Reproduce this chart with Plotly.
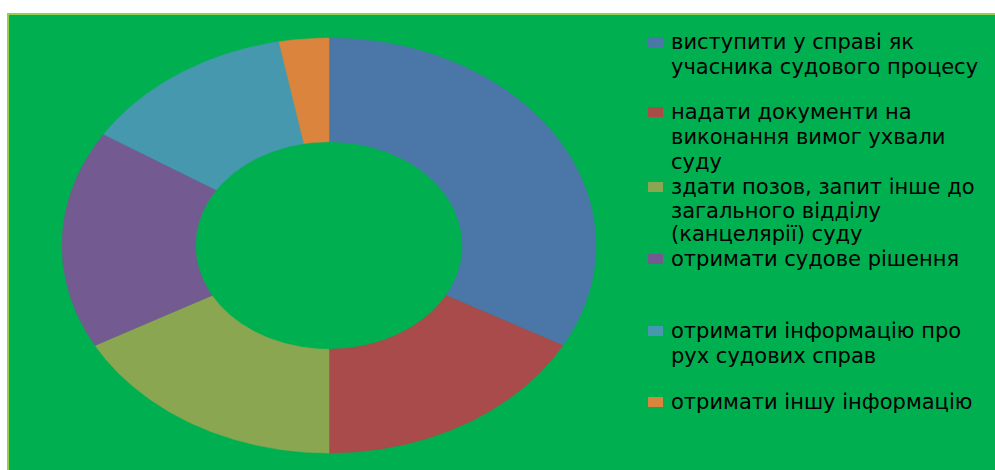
import numpy as np
import plotly.graph_objects as go

categories = [
    "виступити у справі як<br>учасника судового процесу",
    "надати документи на<br>виконання вимог ухвали<br>суду",
    "здати позов, запит інше до<br>загального відділу<br>(канцелярії) суду",
    "отримати судове рішення",
    "отримати інформацію про<br>рух судових справ",
    "отримати іншу інформацію",
]
values = [33, 17, 17, 17, 13, 3]
colors = ["#4A76A8", "#A84B4A", "#8AA650", "#735A91", "#4698AE", "#DB843D"]

# layout constants (pixel space)
CX, CY, RX, RY, HOLE = 329, 245.5, 267, 207.5, 0.5
legend_first_y = [42, 112, 187, 259, 331, 402]
legend_line_h = [25, 25, 23.5, 25, 25, 25]

fig = go.Figure()

total = sum(values)
start = 0.0
for name, v, c in zip(categories, values, colors):
    t0 = start / total * 2 * np.pi
    t1 = (start + v) / total * 2 * np.pi
    start += v
    t = np.linspace(t0, t1, 120)
    xo = CX + RX * np.sin(t)
    yo = CY - RY * np.cos(t)
    xi = CX + HOLE * RX * np.sin(t[::-1])
    yi = CY - HOLE * RY * np.cos(t[::-1])
    xs = np.concatenate([xo, xi, xo[:1]])
    ys = np.concatenate([yo, yi, yo[:1]])
    fig.add_trace(go.Scatter(
        x=xs, y=ys, fill="toself", fillcolor=c, mode="lines",
        line=dict(width=0.5, color=c), name=name.replace("<br>", " "),
        hoverinfo="name", showlegend=False,
    ))

shapes = [dict(type="rect", xref="x", yref="y", x0=8, y0=14, x1=1000, y1=475,
               fillcolor="#00B050", line=dict(color="#92D050", width=2), layer="below")]
annotations = []
for name, c, y0, lh in zip(categories, colors, legend_first_y, legend_line_h):
    shapes.append(dict(type="rect", xref="x", yref="y", x0=648, x1=663,
                       y0=y0 - 5, y1=y0 + 5,
                       fillcolor=c, line=dict(width=0)))
    for k, line in enumerate(name.split("<br>")):
        annotations.append(dict(x=670, y=y0 + k * lh, xref="x", yref="y", text=line,
                                showarrow=False, xanchor="left", yanchor="middle",
                                align="left", borderpad=0,
                                font=dict(family="DejaVu Sans", size=21, color="#000000")))

fig.update_layout(
    width=995, height=470,
    margin=dict(l=0, r=0, t=0, b=0),
    paper_bgcolor="white", plot_bgcolor="white",
    xaxis=dict(range=[0, 995], visible=False, fixedrange=True),
    yaxis=dict(range=[470, 0], visible=False, fixedrange=True),
    shapes=shapes, annotations=annotations,
    showlegend=False,
)
fig.write_html("out.html", config={"displayModeBar": False},
               post_script="document.body.style.margin='0';document.body.style.overflow='hidden';")
